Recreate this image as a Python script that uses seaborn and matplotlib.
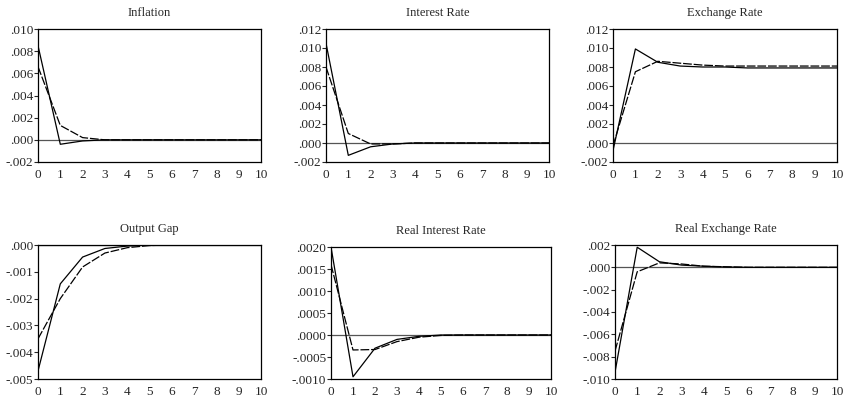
import matplotlib
matplotlib.use("Agg")
import matplotlib.pyplot as plt
import seaborn as sns
import pandas as pd
from matplotlib.ticker import FuncFormatter, MultipleLocator

sns.set_style("ticks")
plt.rcParams["font.family"] = ["Liberation Serif", "DejaVu Serif"]

periods = list(range(11))

titles = ["Inflation", "Interest Rate", "Exchange Rate",
          "Output Gap", "Real Interest Rate", "Real Exchange Rate"]

# solid response (model A) and dashed response (model B)
inflation_a = [0.0085, -0.0004, -0.0001, 0.0, 0.0, 0.0, 0.0, 0.0, 0.0, 0.0, 0.0]
inflation_b = [0.0066, 0.0013, 0.0002, 0.0, 0.0, 0.0, 0.0, 0.0, 0.0, 0.0, 0.0]
interest_a = [0.0105, -0.0013, -0.0004, -0.0001, 0.0, 0.0, 0.0, 0.0, 0.0, 0.0, 0.0]
interest_b = [0.0080, 0.0010, -0.0001, -0.0001, 0.0, 0.0, 0.0, 0.0, 0.0, 0.0, 0.0]
exchange_a = [-0.0008, 0.0099, 0.0085, 0.0081, 0.0080, 0.0080, 0.0079, 0.0079, 0.0079, 0.0079, 0.0079]
exchange_b = [-0.0003, 0.0075, 0.0086, 0.0084, 0.0082, 0.0081, 0.0081, 0.0081, 0.0081, 0.0081, 0.0081]
output_a = [-0.0047, -0.00145, -0.00045, -0.00013, -0.00004, 0.0, 0.0, 0.0, 0.0, 0.0, 0.0]
output_b = [-0.0035, -0.0020, -0.00082, -0.0003, -0.0001, -0.00002, 0.0, 0.0, 0.0, 0.0, 0.0]
real_int_a = [0.0020, -0.00095, -0.0003, -0.0001, -0.00003, 0.0, 0.0, 0.0, 0.0, 0.0, 0.0]
real_int_b = [0.0016, -0.00034, -0.00033, -0.00015, -0.00005, -0.00001, 0.0, 0.0, 0.0, 0.0, 0.0]
real_exch_a = [-0.0094, 0.0018, 0.0005, 0.0002, 0.0001, 0.00003, 0.0, 0.0, 0.0, 0.0, 0.0]
real_exch_b = [-0.0075, -0.0004, 0.0004, 0.0003, 0.0001, 0.00005, 0.0, 0.0, 0.0, 0.0, 0.0]

series_a = [inflation_a, interest_a, exchange_a, output_a, real_int_a, real_exch_a]
series_b = [inflation_b, interest_b, exchange_b, output_b, real_int_b, real_exch_b]

ylims = [(-0.002, 0.010), (-0.002, 0.012), (-0.002, 0.012),
         (-0.005, 0.0), (-0.001, 0.002), (-0.010, 0.002)]
ysteps = [0.002, 0.002, 0.002, 0.001, 0.0005, 0.002]
ydigits = [3, 3, 3, 3, 4, 3]

# axes boxes in pixels: left, top, right, bottom
boxes = [(38, 29, 261, 162), (326, 29, 549, 162), (613, 29, 837, 162),
         (38, 245, 261, 379), (331, 247, 551, 379), (615, 245, 837, 379)]

W, H = 845, 401
fig = plt.figure(figsize=(W / 100, H / 100), dpi=100)


def make_fmt(nd):
    def f(v, pos):
        s = f"{v:.{nd}f}"
        if abs(v) < 1e-12:
            s = f"{0:.{nd}f}"
        return s.replace("0.", ".", 1)
    return FuncFormatter(f)


for i in range(6):
    l, t, r, b = boxes[i]
    ax = fig.add_axes([l / W, 1 - b / H, (r - l) / W, (b - t) / H])
    df = pd.DataFrame({"period": periods, "a": series_a[i], "b": series_b[i]})
    ax.axhline(0, color="#555555", lw=0.9, zorder=1)
    sns.lineplot(data=df, x="period", y="a", ax=ax, color="black", lw=0.9)
    sns.lineplot(data=df, x="period", y="b", ax=ax, color="black", lw=0.9,
                 dashes=False).lines[-1].set_dashes([7, 1.5])
    ax.set_xlim(0, 10)
    ax.set_ylim(*ylims[i])
    ax.xaxis.set_major_locator(MultipleLocator(1))
    ax.yaxis.set_major_locator(MultipleLocator(ysteps[i]))
    ax.yaxis.set_major_formatter(make_fmt(ydigits[i]))
    ax.set_xlabel("")
    ax.set_ylabel("")
    ax.set_title(titles[i], fontsize=9, pad=9.5)
    ax.tick_params(axis="y", direction="out", length=3, width=0.8, labelsize=9.5, pad=0.5)
    ax.tick_params(axis="x", direction="in", length=0, labelsize=9.5, pad=5)
    for sp in ax.spines.values():
        sp.set_visible(True)
        sp.set_linewidth(0.9)
        sp.set_color("black")

fig.savefig("out.png", dpi=100)
